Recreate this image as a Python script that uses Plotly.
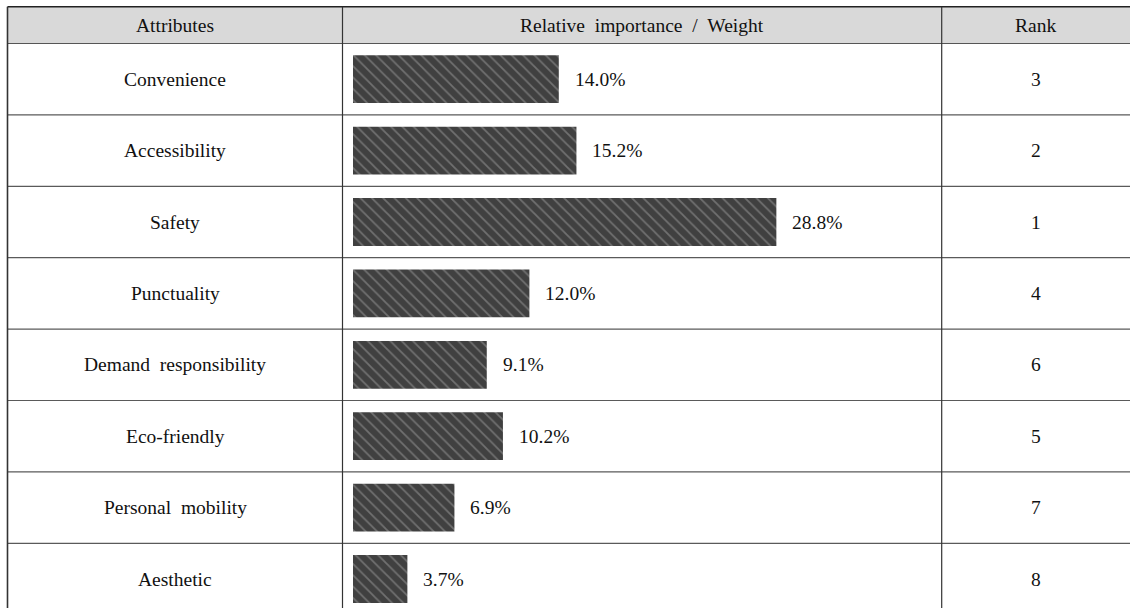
import plotly.graph_objects as go

attributes = ["Convenience", "Accessibility", "Safety", "Punctuality",
              "Demand\u00a0\u00a0responsibility", "Eco-friendly",
              "Personal\u00a0\u00a0mobility", "Aesthetic"]
weights = [14.0, 15.2, 28.8, 12.0, 9.1, 10.2, 6.9, 3.7]
ranks = [3, 2, 1, 4, 6, 5, 7, 8]
headers = ["Attributes", "Relative\u00a0\u00a0importance\u00a0\u00a0/\u00a0\u00a0Weight", "Rank"]

W, H = 1130, 608
FONT = "Liberation Serif"
FS = 19.5
TOP_HDR, BOT_HDR = 6.7, 43.5
ROW_H = 71.4
LEFT_X, COL1_X, COL2_X = 7.5, 342.5, 941.7
BAR0 = 353.0
PX_PER_PCT = 14.7

def px(x):
    return x / W

def py(y):
    return 1 - y / H

n_rows_visible = (H - BOT_HDR) / ROW_H
y_idx = list(range(len(attributes)))

fig = go.Figure()
fig.add_trace(go.Bar(
    x=weights, y=y_idx, orientation="h", width=0.67,
    marker=dict(color="#404040", line=dict(width=0),
                pattern=dict(shape="\\", fgcolor="#a0a0a0", bgcolor="#404040",
                             size=8, solidity=0.22)),
    hoverinfo="skip", showlegend=False,
))

xr = (W - BAR0) / PX_PER_PCT
fig.update_layout(
    width=W, height=H, margin=dict(l=0, r=0, t=0, b=0),
    paper_bgcolor="white", plot_bgcolor="rgba(0,0,0,0)",
    xaxis=dict(domain=[px(BAR0), 1], range=[0, xr], visible=False, fixedrange=True),
    yaxis=dict(domain=[0, py(BOT_HDR)], range=[-0.5 + n_rows_visible, -0.5],
               visible=False, fixedrange=True),
    font=dict(family=FONT, size=FS, color="#111111"),
)

shapes = []
shapes.append(dict(type="rect", xref="paper", yref="paper", x0=px(LEFT_X), x1=1,
                   y0=py(BOT_HDR), y1=py(TOP_HDR), fillcolor="#d9d9d9", line=dict(width=0), layer="below"))
shapes.append(dict(type="line", xref="paper", yref="paper", x0=px(LEFT_X), x1=1,
                   y0=py(TOP_HDR), y1=py(TOP_HDR), line=dict(color="#222222", width=1.6)))
shapes.append(dict(type="line", xref="paper", yref="paper", x0=px(LEFT_X), x1=1,
                   y0=py(BOT_HDR), y1=py(BOT_HDR), line=dict(color="#555555", width=1.2)))
for i in range(len(attributes) - 1):
    shapes.append(dict(type="line", xref="paper", yref="y", x0=px(LEFT_X), x1=1,
                       y0=i + 0.5, y1=i + 0.5, line=dict(color="#5a5a5a", width=1.2)))
shapes.append(dict(type="line", xref="paper", yref="paper", x0=px(LEFT_X), x1=px(LEFT_X),
                   y0=0, y1=py(TOP_HDR), line=dict(color="#333333", width=1.6)))
for xv in (COL1_X, COL2_X):
    shapes.append(dict(type="line", xref="paper", yref="paper", x0=px(xv), x1=px(xv),
                       y0=0, y1=py(TOP_HDR), line=dict(color="#333333", width=1.2)))
fig.update_layout(shapes=shapes)

tf = dict(family=FONT, size=FS, color="#111111")
ann = []
hdr_y = py((TOP_HDR + BOT_HDR) / 2)
for txt, xc in zip(headers, [(LEFT_X + COL1_X) / 2, (COL1_X + COL2_X) / 2, (COL2_X + W) / 2]):
    ann.append(dict(text=txt, xref="paper", yref="paper", x=px(xc), y=hdr_y,
                    xanchor="center", yanchor="middle", showarrow=False, font=tf))
for i, (a, w, r) in enumerate(zip(attributes, weights, ranks)):
    ann.append(dict(text=a, xref="paper", yref="y", x=px((LEFT_X + COL1_X) / 2), y=i,
                    xanchor="center", yanchor="middle", showarrow=False, font=tf))
    ann.append(dict(text=f"{w:.1f}%", xref="x", yref="y", x=w, y=i, xshift=14,
                    xanchor="left", yanchor="middle", showarrow=False, font=tf))
    ann.append(dict(text=str(r), xref="paper", yref="y", x=px((COL2_X + W) / 2), y=i,
                    xanchor="center", yanchor="middle", showarrow=False, font=tf))
fig.update_layout(annotations=ann)

fig.write_html("out.html")
